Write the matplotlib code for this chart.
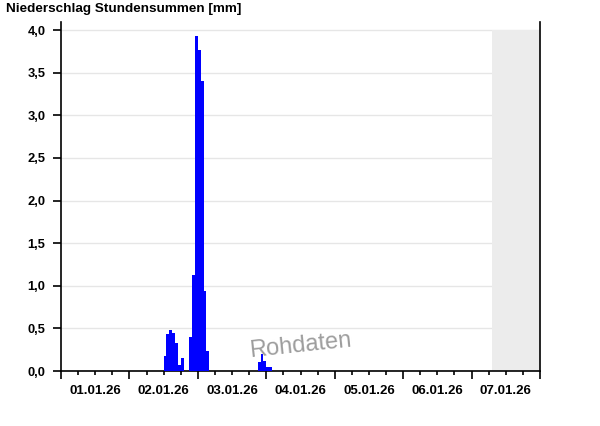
"""
Niederschlag Stundensummen - Balkendiagramm (Nachbau).
"""

from datetime import datetime, timedelta

import matplotlib

matplotlib.use("Agg")
import matplotlib.dates as mdates
import matplotlib.pyplot as plt
from matplotlib.ticker import FixedLocator, FuncFormatter, MultipleLocator

plt.rcParams["font.family"] = ["Liberation Sans", "DejaVu Sans"]

# Stundenwerte (Beginn der Stunde) und Summen in mm
stunden = [
    "02.01.26 12", "02.01.26 13", "02.01.26 14", "02.01.26 15", "02.01.26 16",
    "02.01.26 17", "02.01.26 18", "02.01.26 21", "02.01.26 22", "02.01.26 23",
    "03.01.26 00", "03.01.26 01", "03.01.26 02", "03.01.26 03",
    "03.01.26 21", "03.01.26 22", "03.01.26 23", "04.01.26 00", "04.01.26 01",
]
niederschlag = [
    0.18, 0.43, 0.48, 0.45, 0.33,
    0.07, 0.15, 0.40, 1.13, 3.93,
    3.77, 3.40, 0.94, 0.23,
    0.10, 0.20, 0.12, 0.05, 0.05,
]
tage = ["01.01.26", "02.01.26", "03.01.26", "04.01.26", "05.01.26", "06.01.26", "07.01.26"]
zukunft_ab = "07.01.26 07"  # ab hier grau (noch keine Daten)

FMT = "%d.%m.%y %H"
t = [datetime.strptime(s, FMT) for s in stunden]
t0 = datetime.strptime(tage[0], "%d.%m.%y")
t_end = t0 + timedelta(days=len(tage))
t_grau = datetime.strptime(zukunft_ab, FMT)

fig = plt.figure(figsize=(6.0, 4.26), dpi=100)
ax = fig.add_axes([61 / 600, 1 - 371 / 426, 479 / 600, 349 / 426])

ax.bar(t, niederschlag, width=1 / 24, align="edge", color="#0000ff", zorder=3)
ax.fill_between([t_grau, t_end], 0, 4.0, color="#ececec", lw=0, zorder=1)

ax.set_xlim(t0, t_end)
ax.set_ylim(0, 4.094)

# y-Achse
ax.yaxis.set_major_locator(MultipleLocator(0.5))
ax.yaxis.set_major_formatter(FuncFormatter(lambda v, p: f"{v:.1f}".replace(".", ",")))
ax.set_yticks([i * 0.5 for i in range(9)])
ax.grid(axis="y", color="#e6e6e6", lw=1, zorder=0)
ax.set_axisbelow(True)

# x-Achse: Tagesgrenzen lang, 6h kurz, Beschriftung mittags
ax.xaxis.set_major_locator(mdates.DayLocator())
ax.xaxis.set_major_formatter(FuncFormatter(lambda v, p: ""))
mittag = [mdates.date2num(t0 + timedelta(days=i, hours=h)) for i in range(len(tage)) for h in (6, 12, 18)]
ax.xaxis.set_minor_locator(FixedLocator(mittag))


def label_mittag(v, p):
    d = mdates.num2date(v)
    if d.hour == 12:
        return d.strftime("%d.%m.%y")
    return ""


ax.xaxis.set_minor_formatter(FuncFormatter(label_mittag))

ax.tick_params(axis="x", which="major", length=5.8, width=1.2, direction="out")
ax.tick_params(axis="x", which="minor", length=2.9, width=1.2, pad=7.5, labelsize=9.5)
ax.tick_params(axis="y", which="major", length=5.8, width=1.2, pad=5.5, labelsize=9.3)
for lab in ax.get_xticklabels(minor=True) + ax.get_yticklabels():
    lab.set_fontweight("bold")

ax.spines["top"].set_visible(False)
for s in ("left", "right", "bottom"):
    ax.spines[s].set_linewidth(1.2)

fig.text(6 / 600, 1 - 9 / 426, "Niederschlag Stundensummen [mm]",
         fontsize=9.7, fontweight="bold", va="center", ha="left")

# Wasserzeichen
ax.text(0.5, 0.073, "Rohdaten", transform=ax.transAxes, rotation=6,
        fontsize=17, color="#8c8c8c", alpha=0.85, ha="center", va="center", zorder=4)

fig.savefig("out.png", dpi=100)
